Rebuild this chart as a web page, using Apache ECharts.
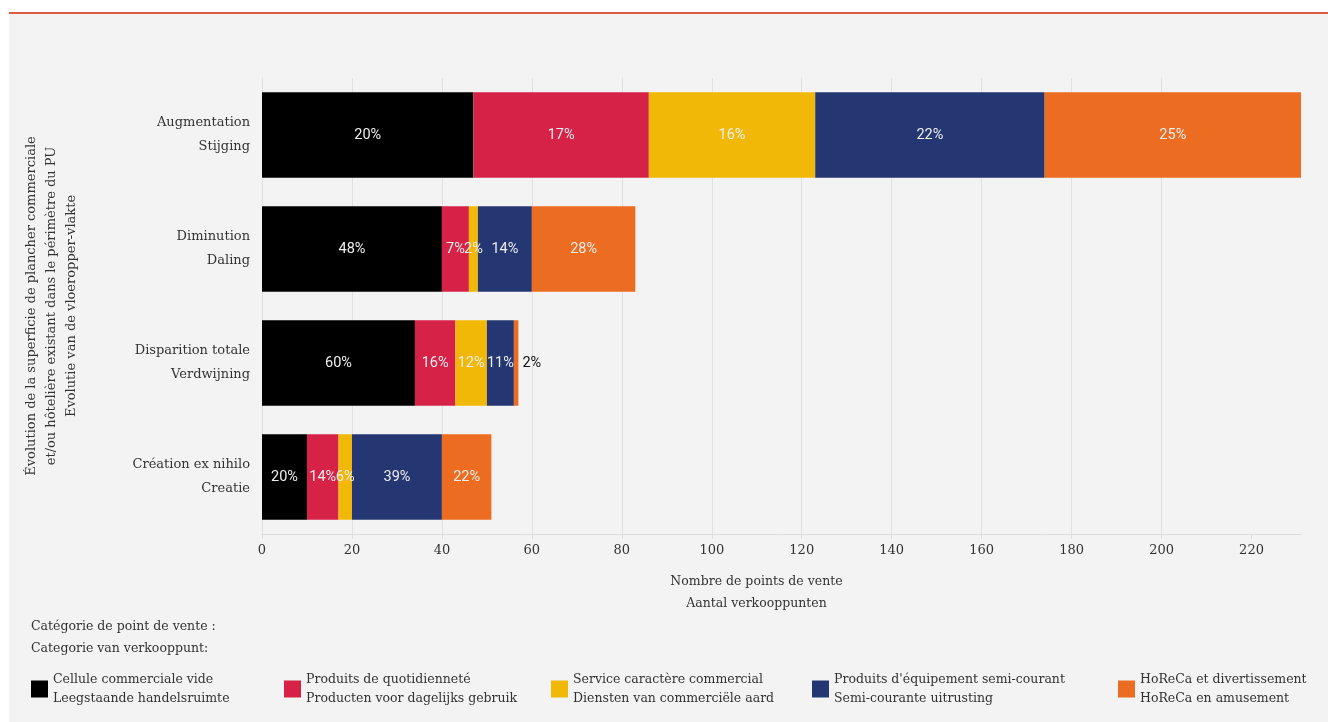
<!DOCTYPE html>
<html>
<head>
<meta charset="utf-8">
<script src="https://cdn.jsdelivr.net/npm/echarts@6/dist/echarts.min.js"></script>
<style>
  html, body { margin: 0; padding: 0; background: #ffffff; }
  #frame { position: absolute; left: 9px; top: 12px; width: 1319px; height: 710px;
           border-top: 2px solid #e0583f; background: #f2f3f2; }
  #chart { position: absolute; left: 0; top: 0; width: 1328px; height: 722px; }
</style>
</head>
<body>
<div id="frame"></div>
<div id="chart"></div>
<script>
// Evolution categories (top to bottom)
const categories = [
  'Augmentation\nStijging',
  'Diminution\nDaling',
  'Disparition totale\nVerdwijning',
  'Création ex nihilo\nCreatie'
];

// Number of points of sale per category of outlet
const videValues      = [47, 40, 34, 10];
const quotidienValues = [39, 6, 9, 7];
const serviceValues   = [37, 2, 7, 3];
const semiValues      = [51, 12, 6, 20];
const horecaValues    = [57, 23, 1, 11];

const seriesNames = [
  'Cellule commerciale vide\nLeegstaande handelsruimte',
  'Produits de quotidienneté\nProducten voor dagelijks gebruik',
  'Service caractère commercial\nDiensten van commerciële aard',
  "Produits d'équipement semi-courant\nSemi-courante uitrusting",
  'HoReCa et divertissement\nHoReCa en amusement'
];
const seriesColors = ['#000000', '#d72248', '#f2b807', '#243772', '#ec6d21'];
const seriesValues = [videValues, quotidienValues, serviceValues, semiValues, horecaValues];

const xTicks = [0, 20, 40, 60, 80, 100, 120, 140, 160, 180, 200, 220];

const totals = categories.map((_, i) =>
  seriesValues.reduce((s, arr) => s + arr[i], 0));

const axisFont = 'DejaVu Serif, serif';
const barFont = 'Roboto, sans-serif';

const series = seriesValues.map((vals, si) => ({
  name: seriesNames[si],
  type: 'bar',
  stack: 'total',
  barCategoryGap: '25%',
  itemStyle: { color: seriesColors[si] },
  label: {
    show: true,
    position: 'inside',
    color: '#eeeeee',
    fontFamily: barFont,
    fontSize: 14.5,
    formatter: p => Math.round(p.value / totals[p.dataIndex] * 100) + '%'
  },
  data: vals.map((v, ci) => {
    // very narrow segments carry their label outside, in dark text
    if (v / totals[ci] < 0.02) {
      return { value: v, label: { position: 'right', color: '#111', distance: 4 } };
    }
    return v;
  })
}));

const legendLefts = [31, 284, 551, 812, 1118];
const legends = seriesNames.map((n, i) => ({
  data: [n],
  left: legendLefts[i],
  top: 670,
  padding: 0,
  orient: 'horizontal',
  icon: 'rect',
  itemWidth: 17,
  itemHeight: 17,
  itemGap: 0,
  selectedMode: false,
  textStyle: { fontFamily: axisFont, fontSize: 12.5, color: '#333', lineHeight: 19 }
}));

const chart = echarts.init(document.getElementById('chart'));
chart.setOption({
  animation: false,
  backgroundColor: 'transparent',
  title: {
    text: 'Catégorie de point de vente :\nCategorie van verkooppunt:',
    left: 31,
    top: 616,
    padding: 0,
    textStyle: { fontFamily: axisFont, fontSize: 12.5, fontWeight: 'normal', color: '#333', lineHeight: 22 }
  },
  legend: legends,
  grid: { left: 262, right: 27, top: 78, bottom: 188, containLabel: false },
  xAxis: {
    type: 'value',
    min: 0,
    max: 231,
    interval: 20,
    name: 'Nombre de points de vente\nAantal verkooppunten',
    nameLocation: 'middle',
    nameGap: 37,
    nameTextStyle: { fontFamily: axisFont, fontSize: 12.5, color: '#333', lineHeight: 22, padding: [0, 50, 0, 0] },
    axisLine: { show: true, lineStyle: { color: '#dcdcdc' } },
    axisTick: { show: true, length: 5, lineStyle: { color: '#dcdcdc' }, customValues: xTicks },
    axisLabel: { fontFamily: axisFont, fontSize: 13, color: '#333', margin: 10, customValues: xTicks },
    splitLine: { show: true, showMaxLine: false, lineStyle: { color: '#e1e1e1' } }
  },
  yAxis: {
    type: 'category',
    inverse: true,
    data: categories,
    name: 'Évolution de la superficie de plancher commerciale\net/ou hôtelière existant dans le périmètre du PU\nEvolutie van de vloeropper-vlakte',
    nameLocation: 'middle',
    nameRotate: 90,
    nameGap: 180,
    nameTextStyle: { fontFamily: axisFont, fontSize: 13, color: '#333', lineHeight: 20, align: 'center' },
    axisLine: { show: false },
    axisTick: { show: false },
    axisLabel: { fontFamily: axisFont, fontSize: 13, color: '#333', margin: 12, lineHeight: 24, align: 'right' }
  },
  series: series
});
</script>
</body>
</html>
